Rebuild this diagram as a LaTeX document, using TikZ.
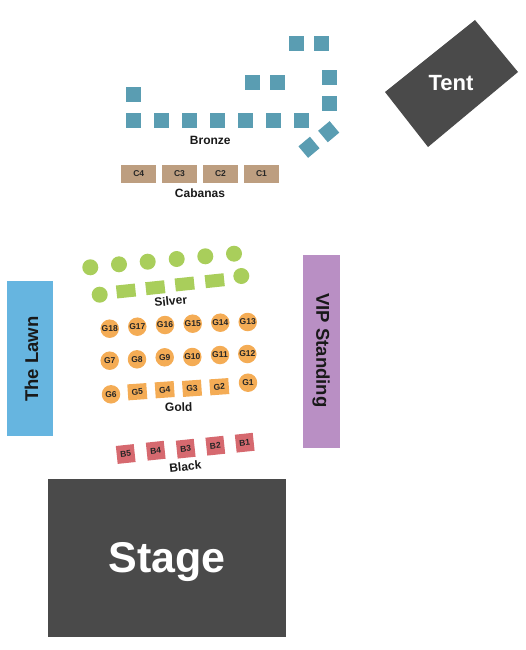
\documentclass[tikz,border=0pt]{standalone}
\usepackage{fontspec}
\setmainfont{Liberation Sans}
\definecolor{teal1}{HTML}{5A9DB2}
\definecolor{tan1}{HTML}{BD9E80}
\definecolor{green1}{HTML}{A9CE5B}
\definecolor{orange1}{HTML}{F4AC55}
\definecolor{red1}{HTML}{D6696F}
\definecolor{lawn1}{HTML}{66B5E0}
\definecolor{vip1}{HTML}{B98FC4}
\definecolor{dark1}{HTML}{4A4A4A}
\tikzset{
 seatlabel/.style={font=\bfseries\fontsize{8.5}{9}\selectfont,inner sep=0pt,text=black!85},
 seclabel/.style={font=\bfseries\fontsize{12}{12}\selectfont,inner sep=0pt,text=black!90},
 bronzeseat/.style={fill=teal1,minimum width=15pt,minimum height=15pt,inner sep=0pt},
 cabana/.style={seatlabel,fill=tan1,minimum width=35pt,minimum height=18pt},
 silverround/.style={circle,fill=green1,minimum size=16pt,inner sep=0pt},
 silverrect/.style={fill=green1,minimum width=19pt,minimum height=13pt,inner sep=0pt,rotate=6},
 goldround/.style={seatlabel,circle,fill=orange1,minimum size=18.5pt},
 goldrect/.style={seatlabel,fill=orange1,minimum width=19pt,minimum height=16pt,rotate=4},
 blackseat/.style={seatlabel,fill=red1,minimum width=18pt,minimum height=18pt,rotate=6},
 bigarea/.style={fill=dark1,text=white,font=\bfseries,inner sep=0pt},
}
\begin{document}
\begin{tikzpicture}[x=1pt,y=-1pt]
\useasboundingbox (0,0) rectangle (525,650);
% Bronze
\foreach \n/\x/\y in {a/133.3/120.3,b/161.3/120.3,c/189.3/120.3,d/217.3/120.3,e/245.3/120.3,f/273.3/120.3,g/301.3/120.3,h/133.3/95,i/252/82.3,j/277/82.3,k/296.3/44,l/321.3/44,m/329.3/77.3,n/329.3/103.3}
  \node[bronzeseat] (br\n) at (\x,\y) {};
\node[bronzeseat,rotate=40] (bro) at (328.7,131.7) {};
\node[bronzeseat,rotate=40] (brp) at (309,147.3) {};
\node[seclabel] (bronze) at (210.3,140.5) {Bronze};
% Cabanas
\node[cabana] (c4) at (138.7,174) {C4};
\node[cabana] (c3) at (179.5,174) {C3};
\node[cabana] (c2) at (220.5,174) {C2};
\node[cabana] (c1) at (261.5,174) {C1};
\node[seclabel] (cabanas) at (200,193.7) {Cabanas};
% Tent
\fill[dark1] (475,20) -- (518,72) -- (428,147) -- (385,92) -- cycle;
\node[font=\bfseries\fontsize{22}{22}\selectfont,text=white,inner sep=0pt] (tent) at (451,83) {Tent};
% Silver
\foreach \n/\x/\y in {a/90.3/267.3,b/119/264.3,c/147.7/261.7,d/176.7/259,e/205.3/256.3,f/234/253.7,g/99.7/294.7,h/241.3/276}
  \node[silverround] (si\n) at (\x,\y) {};
\foreach \n/\x/\y in {i/126/291,j/155.3/287.7,k/184.7/284,l/214.7/280.7}
  \node[silverrect] (si\n) at (\x,\y) {};
\node[seclabel,rotate=6] (silver) at (170.7,301) {Silver};
% Gold
\foreach \t/\x/\y in {G18/109.7/328.7,G17/137.3/326.7,G16/165/325,G15/192.7/323.7,G14/220.3/322.7,G13/247.7/322,G7/109.7/360.7,G8/137/359.3,G9/164.7/357.3,G10/192.3/357,G11/220/355,G12/247.3/354,G6/111/394.3,G1/248/382.7}
  \node[goldround] (\t) at (\x,\y) {\t};
\foreach \t/\x/\y in {G5/137.3/391.7,G4/164.7/389.7,G3/192/388.3,G2/219.3/386.7}
  \node[goldrect] (\t) at (\x,\y) {\t};
\node[seclabel,rotate=2] (gold) at (178.7,407) {Gold};
% Black
\foreach \t/\x/\y in {B5/125.7/454,B4/155.7/450.7,B3/185.7/448.7,B2/215.3/445.7,B1/244.7/442.7}
  \node[blackseat] (\t) at (\x,\y) {\t};
\node[seclabel,rotate=6] (black) at (185.3,466.7) {Black};
% Areas
\node[fill=lawn1,minimum width=46pt,minimum height=155pt,inner sep=0pt] (lawn) at (30,358.5) {};
\node[font=\bfseries\fontsize{18.5}{19}\selectfont,text=black!90,rotate=90,inner sep=0pt] (lawntext) at (31.5,359) {The Lawn};
\node[fill=vip1,minimum width=37pt,minimum height=193pt,inner sep=0pt] (vip) at (321.5,351.5) {};
\node[font=\bfseries\fontsize{18.5}{19}\selectfont,text=black!90,rotate=-90,inner sep=0pt] (viptext) at (321,350.5) {VIP Standing};
\node[bigarea,minimum width=238pt,minimum height=158pt] (stage) at (167,558) {};
\node[font=\bfseries\fontsize{43}{43}\selectfont,text=white,inner sep=0pt] (stagetext) at (167,562) {Stage};
\end{tikzpicture}
\end{document}
